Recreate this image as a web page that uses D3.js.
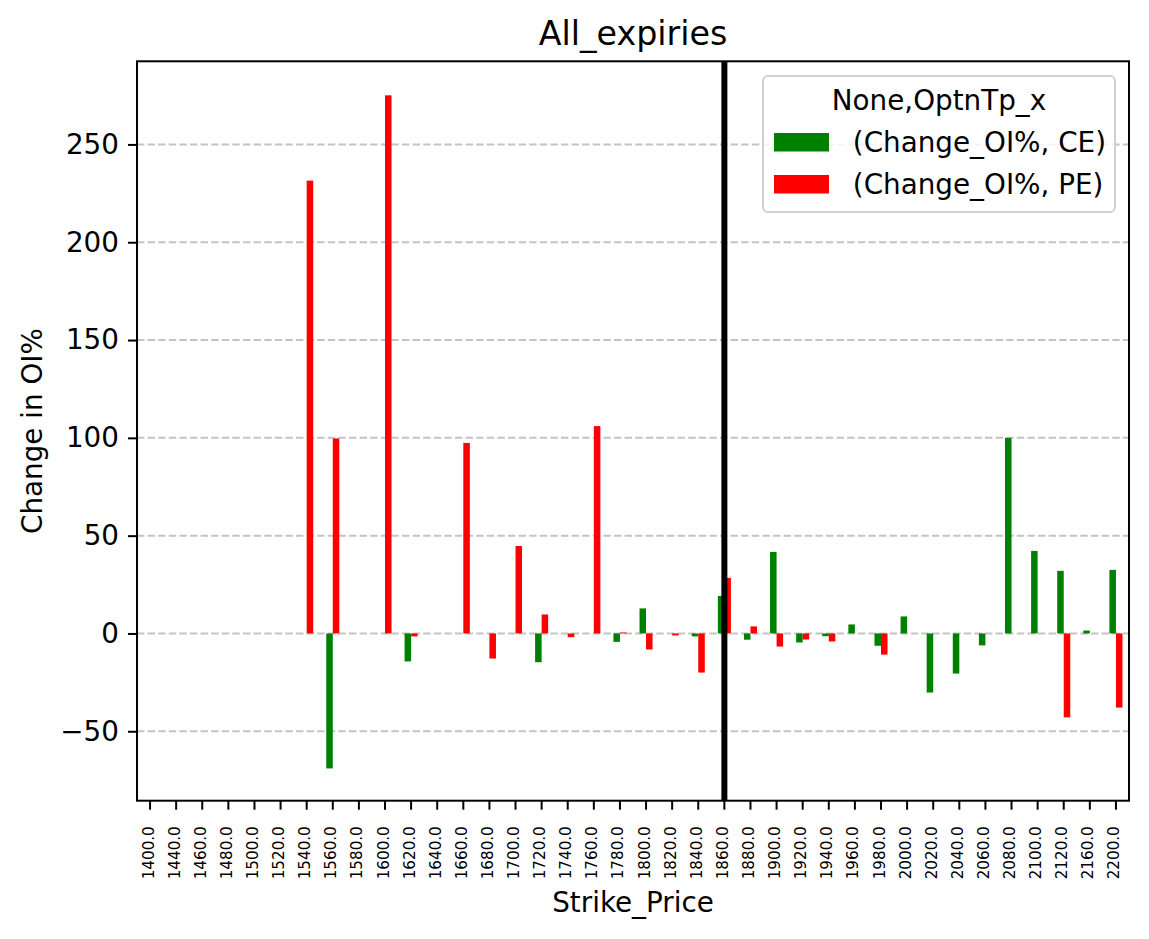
<!DOCTYPE html>
<html>
<head>
<meta charset="utf-8">
<script src="https://cdn.jsdelivr.net/npm/d3@7"></script>
<style>
  body { margin: 0; background: #fff; }
  svg text { font-family: "DejaVu Sans", "DejaVu Sans Book", "Bitstream Vera Sans", sans-serif !important; }
</style>
</head>
<body>
<div id="chart"></div>
<script>
// Strike prices (categories along the x axis)
const strikes = [1400, 1440, 1460, 1480, 1500, 1520, 1540, 1560, 1580, 1600,
  1620, 1640, 1660, 1680, 1700, 1720, 1740, 1760, 1780, 1800,
  1820, 1840, 1860, 1880, 1900, 1920, 1940, 1960, 1980, 2000,
  2020, 2040, 2060, 2080, 2100, 2120, 2160, 2200];

// Change in OI% for calls (CE) and puts (PE); null = no bar
const ceValues = [null, null, null, null, null, null, null, -69, null, null,
  -14.3, null, null, null, null, -14.7, null, null, -4.3, 12.8,
  null, -1.5, 19.2, -3.2, 41.7, -4.6, -1.4, 4.6, -6.3, 8.7,
  -30.2, -20.5, -6.1, 100, 42.2, 32, 1.5, 32.5];
const peValues = [null, null, null, null, null, null, 231.5, 99.7, null, 275.1,
  -1.5, null, 97.4, -12.8, 44.7, 9.7, -1.9, 106, 0.5, -8.2,
  -1, -20, 28.4, 3.6, -6.7, -3.1, -4.1, null, -10.8, null,
  null, null, null, null, null, -42.9, null, -37.9];

const yTicks = [-50, 0, 50, 100, 150, 200, 250];
const spotStrike = 1860;

const seriesNames = [" (Change_OI%, CE)", " (Change_OI%, PE)"];
const seriesColors = ["#008000", "#ff0000"];

const width = 1149, height = 939;
const margin = { top: 61.3, right: 20, bottom: 138.3, left: 137 };
const innerW = width - margin.left - margin.right;   // 992
const innerH = height - margin.top - margin.bottom;

const fs = 27.8;   // 10pt at 200 dpi

const svg = d3.select("#chart").append("svg")
  .attr("width", width)
  .attr("height", height);

const x = d3.scaleBand()
  .domain(strikes)
  .range([margin.left, margin.left + innerW])
  .padding(0);

const y = d3.scaleLinear()
  .domain([-85.5, 292.5])
  .range([margin.top + innerH, margin.top]);

const barW = x.bandwidth() * 0.25;
const centre = d => x(d) + x.bandwidth() / 2;

// grid lines (y only)
svg.append("g")
  .selectAll("line")
  .data(yTicks)
  .join("line")
  .attr("x1", margin.left)
  .attr("x2", margin.left + innerW)
  .attr("y1", d => y(d))
  .attr("y2", d => y(d))
  .attr("stroke", "#c4c4c4")
  .attr("stroke-width", 2)
  .attr("stroke-dasharray", "7.4,3.2");

// bars
[ceValues, peValues].forEach((vals, s) => {
  svg.append("g")
    .selectAll("rect")
    .data(strikes.map((k, i) => ({ k, v: vals[i] })).filter(d => d.v !== null))
    .join("rect")
    .attr("x", d => centre(d.k) + (s === 0 ? -barW : 0))
    .attr("width", barW)
    .attr("y", d => y(Math.max(0, d.v)))
    .attr("height", d => Math.abs(y(d.v) - y(0)))
    .attr("fill", seriesColors[s]);
});

// vertical line at spot strike
svg.append("line")
  .attr("x1", centre(spotStrike))
  .attr("x2", centre(spotStrike))
  .attr("y1", margin.top)
  .attr("y2", margin.top + innerH)
  .attr("stroke", "#000")
  .attr("stroke-width", 6);

// axes
const xAxis = svg.append("g")
  .attr("transform", `translate(0,${margin.top + innerH})`)
  .call(d3.axisBottom(x).tickSize(9).tickPadding(0).tickFormat(d => d.toFixed(1)));
xAxis.select(".domain").remove();
xAxis.selectAll(".tick line").attr("stroke-width", 2);
xAxis.selectAll(".tick text")
  .attr("font-size", 15.2)
  .attr("fill", "#000")
  .attr("text-anchor", "end")
  .attr("dy", null)
  .attr("y", 0)
  .attr("dominant-baseline", "central")
  .attr("transform", "translate(-1.5,25.5) rotate(-90)");

const yAxis = svg.append("g")
  .attr("transform", `translate(${margin.left},0)`)
  .call(d3.axisLeft(y).tickValues(yTicks).tickSize(9).tickPadding(9));
yAxis.select(".domain").remove();
yAxis.selectAll(".tick line").attr("stroke-width", 2);
yAxis.selectAll(".tick text").attr("font-size", fs).attr("fill", "#000");

// frame
svg.append("rect")
  .attr("x", margin.left)
  .attr("y", margin.top)
  .attr("width", innerW)
  .attr("height", innerH)
  .attr("fill", "none")
  .attr("stroke", "#000")
  .attr("stroke-width", 2);

// title and axis labels
svg.append("text")
  .attr("x", margin.left + innerW / 2)
  .attr("y", 45)
  .attr("text-anchor", "middle")
  .attr("font-size", 33.3)
  .text("All_expiries");

svg.append("text")
  .attr("x", margin.left + innerW / 2)
  .attr("y", 912)
  .attr("text-anchor", "middle")
  .attr("font-size", fs)
  .text("Strike_Price");

svg.append("text")
  .attr("transform", `translate(42,${margin.top + innerH / 2}) rotate(-90)`)
  .attr("text-anchor", "middle")
  .attr("font-size", fs)
  .text("Change in OI%");

// legend
const lg = svg.append("g").attr("transform", "translate(763,76)");
lg.append("rect")
  .attr("width", 352)
  .attr("height", 136)
  .attr("rx", 5)
  .attr("fill", "#fff")
  .attr("fill-opacity", 0.8)
  .attr("stroke", "#d0d0d0")
  .attr("stroke-width", 2);
lg.append("text")
  .attr("x", 176)
  .attr("y", 34)
  .attr("text-anchor", "middle")
  .attr("font-size", fs)
  .text("None,OptnTp_x");
seriesNames.forEach((name, i) => {
  const row = lg.append("g").attr("transform", `translate(0,${57 + i * 42})`);
  row.append("rect")
    .attr("x", 11)
    .attr("y", 0)
    .attr("width", 55)
    .attr("height", 18.5)
    .attr("fill", seriesColors[i]);
  row.append("text")
    .attr("x", 81)
    .attr("y", 19)
    .attr("font-size", fs)
    .attr("xml:space", "preserve")
    .style("white-space", "pre")
    .text(name);
});
</script>
</body>
</html>
